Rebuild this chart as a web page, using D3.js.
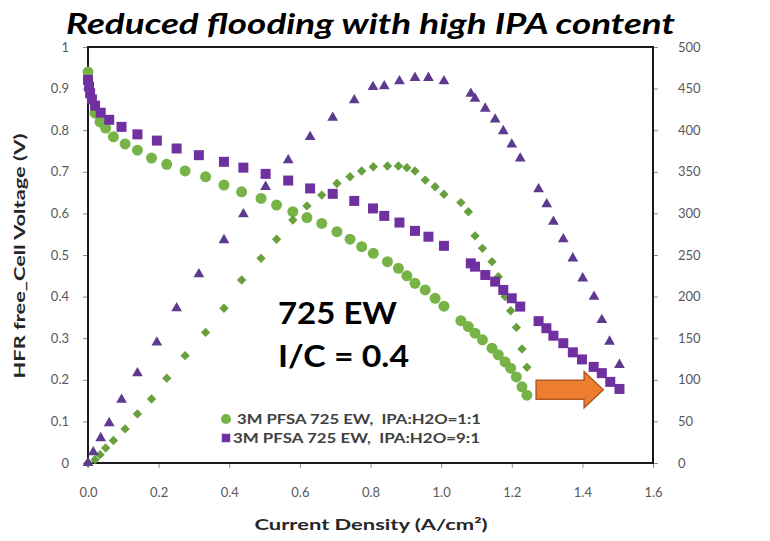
<!DOCTYPE html>
<html>
<head>
<meta charset="utf-8">
<script src="https://cdn.jsdelivr.net/npm/d3@7"></script>
<style>
  body { margin: 0; background: #fff; }
  text { font-family: Lato, "Open Sans", sans-serif; }
</style>
</head>
<body>
<svg id="chart" width="770" height="541"></svg>
<script>
// Current density (A/cm²) for the IPA:H2O = 1:1 ink
const current11 = [0.000, 0.020, 0.034, 0.050, 0.072, 0.105, 0.140, 0.180, 0.223, 0.275,
                   0.333, 0.385, 0.435, 0.490, 0.534, 0.580, 0.620, 0.662, 0.705, 0.742,
                   0.775, 0.808, 0.848, 0.879, 0.903, 0.926, 0.955, 0.983, 1.008, 1.056,
                   1.077, 1.096, 1.117, 1.144, 1.162, 1.181, 1.197, 1.213, 1.229, 1.243];
// HFR-free cell voltage (V), IPA:H2O = 1:1
const voltage11 = [0.940, 0.841, 0.820, 0.805, 0.784, 0.767, 0.752, 0.733, 0.718, 0.702,
                   0.688, 0.668, 0.652, 0.636, 0.620, 0.604, 0.590, 0.576, 0.556, 0.538,
                   0.520, 0.504, 0.484, 0.468, 0.450, 0.432, 0.416, 0.396, 0.377, 0.342,
                   0.328, 0.312, 0.296, 0.276, 0.260, 0.243, 0.228, 0.207, 0.183, 0.163];
// Power density (mW/cm²), IPA:H2O = 1:1
const power11 = [0, 4, 10, 18, 27, 41, 59, 77, 102, 129,
                 157, 186, 220, 246, 269, 292, 309, 322, 336, 344,
                 351, 356, 357, 357, 355, 351, 340, 332, 323, 313,
                 302, 273, 258, 242, 224, 200, 183, 163, 137, 115];

// Current density (A/cm²) for the IPA:H2O = 9:1 voltage curve
const current91 = [0.000, 0.003, 0.006, 0.011, 0.020, 0.036, 0.060, 0.095, 0.140, 0.195,
                   0.251, 0.314, 0.385, 0.440, 0.503, 0.567, 0.629, 0.693, 0.754, 0.807,
                   0.839, 0.882, 0.926, 0.964, 1.008, 1.084, 1.096, 1.125, 1.153, 1.176,
                   1.200, 1.224, 1.276, 1.298, 1.318, 1.346, 1.373, 1.399, 1.432, 1.455,
                   1.479, 1.505];
// HFR-free cell voltage (V), IPA:H2O = 9:1
const voltage91 = [0.921, 0.905, 0.889, 0.874, 0.859, 0.842, 0.825, 0.808, 0.790, 0.775,
                   0.756, 0.740, 0.724, 0.710, 0.695, 0.679, 0.660, 0.647, 0.630, 0.612,
                   0.594, 0.578, 0.558, 0.544, 0.522, 0.480, 0.472, 0.452, 0.436, 0.416,
                   0.396, 0.376, 0.341, 0.324, 0.306, 0.288, 0.266, 0.249, 0.231, 0.216,
                   0.195, 0.178];
// Current density (A/cm²) for the IPA:H2O = 9:1 power curve
const powerCurrent91 = [0.000, 0.015, 0.036, 0.060, 0.095, 0.140, 0.195, 0.251, 0.314, 0.385,
                        0.440, 0.503, 0.567, 0.629, 0.693, 0.754, 0.807, 0.839, 0.882, 0.926,
                        0.964, 1.008, 1.084, 1.096, 1.125, 1.153, 1.176, 1.200, 1.224, 1.276,
                        1.299, 1.318, 1.346, 1.373, 1.401, 1.433, 1.455, 1.477, 1.505];
// Power density (mW/cm²), IPA:H2O = 9:1
const power91 = [0, 13, 30, 48, 76, 108, 145, 186, 227, 268,
                 299, 332, 364, 392, 415, 436, 452, 453, 459, 463,
                 463, 459, 444, 438, 426, 413, 399, 383, 366, 329,
                 311, 290, 269, 246, 222, 200, 172, 146, 118];

const xTicks = [0, 0.2, 0.4, 0.6, 0.8, 1.0, 1.2, 1.4, 1.6];
const voltageTicks = [0, 0.1, 0.2, 0.3, 0.4, 0.5, 0.6, 0.7, 0.8, 0.9, 1];
const powerTicks = [0, 50, 100, 150, 200, 250, 300, 350, 400, 450, 500];
const legendLabels = ["3M PFSA 725 EW,\u00a0 IPA:H2O=1:1", "3M PFSA 725 EW,\u00a0 IPA:H2O=9:1"];

const svg = d3.select("#chart");
const plotL = 88, plotR = 653, plotT = 47, plotB = 463;

const x = d3.scaleLinear().domain([0, 1.6]).range([plotL, plotR]);
const yV = d3.scaleLinear().domain([0, 1]).range([plotB, plotT]);
const yP = d3.scaleLinear().domain([0, 500]).range([plotB, plotT]);

// Title
svg.append("text")
  .attr("x", 66).attr("y", 34)
  .attr("textLength", 609).attr("lengthAdjust", "spacingAndGlyphs")
  .style("font-size", "29px").style("font-weight", "bold").style("font-style", "italic")
  .attr("fill", "#000")
  .text("Reduced flooding with high IPA content");

// Axes
function styleAxis(g) {
  g.select(".domain").remove();
  g.selectAll(".tick line").attr("stroke", "#8c8c8c").attr("stroke-width", 1);
  g.selectAll(".tick text").attr("fill", "#595959").style("font-size", "13px")
    .style("font-family", "Lato, sans-serif");
}

svg.append("g").attr("transform", `translate(${plotL},0)`)
  .call(d3.axisLeft(yV).tickValues(voltageTicks).tickSize(5).tickPadding(14)
    .tickFormat(d => (d === 0 || d === 1) ? String(d) : d.toFixed(1)))
  .call(styleAxis);

svg.append("g").attr("transform", `translate(${plotR},0)`)
  .call(d3.axisRight(yP).tickValues(powerTicks).tickSize(5).tickPadding(20))
  .call(styleAxis);

svg.append("g").attr("transform", `translate(0,${plotB})`)
  .call(d3.axisBottom(x).tickValues(xTicks).tickSize(5).tickPadding(20)
    .tickFormat(d3.format(".1f")))
  .call(styleAxis);

// Plot frame
svg.append("rect")
  .attr("x", plotL).attr("y", plotT)
  .attr("width", plotR - plotL).attr("height", plotB - plotT)
  .attr("fill", "none").attr("stroke", "#1a1a1a").attr("stroke-width", 2);

// Axis titles
svg.append("text")
  .attr("transform", "translate(25,256) rotate(-90)")
  .attr("text-anchor", "middle")
  .attr("textLength", 245).attr("lengthAdjust", "spacingAndGlyphs")
  .style("font-size", "16px").style("font-weight", "bold").attr("fill", "#262626")
  .text("HFR free_Cell Voltage (V)");

svg.append("text")
  .attr("x", 371).attr("y", 530)
  .attr("text-anchor", "middle")
  .attr("textLength", 233).attr("lengthAdjust", "spacingAndGlyphs")
  .style("font-size", "15px").style("font-weight", "bold").attr("fill", "#262626")
  .text("Current Density (A/cm²)");

// Markers
const green = "#77b347", greenDark = "#67a03d", purple = "#7030a0", purpleTri = "#5d3a8e";
const circleSym = d3.symbol(d3.symbolCircle, 95);
const squareSym = d3.symbol(d3.symbolSquare, 100);
const diamondSym = d3.symbol(d3.symbolSquare, 44);
const triangleSym = d3.symbol(d3.symbolTriangle, 50);

svg.append("g").selectAll("path")
  .data(d3.zip(current11, voltage11)).join("path")
  .attr("d", circleSym).attr("fill", green)
  .attr("transform", d => `translate(${x(d[0])},${yV(d[1])})`);

svg.append("g").selectAll("path")
  .data(d3.zip(current11, power11)).join("path")
  .attr("d", diamondSym).attr("fill", greenDark)
  .attr("transform", d => `translate(${x(d[0])},${yP(d[1])}) rotate(45)`);

svg.append("g").selectAll("path")
  .data(d3.zip(powerCurrent91, power91)).join("path")
  .attr("d", triangleSym).attr("fill", purpleTri)
  .attr("transform", d => `translate(${x(d[0])},${yP(d[1])})`);

svg.append("g").selectAll("path")
  .data(d3.zip(current91, voltage91)).join("path")
  .attr("d", squareSym).attr("fill", purple)
  .attr("transform", d => `translate(${x(d[0])},${yV(d[1])})`);

// Annotation text
svg.append("text").attr("x", 278).attr("y", 324)
  .attr("textLength", 119).attr("lengthAdjust", "spacingAndGlyphs")
  .style("font-size", "30px").style("font-weight", "bold").attr("fill", "#000")
  .text("725 EW");
svg.append("text").attr("x", 278).attr("y", 367)
  .attr("textLength", 131).attr("lengthAdjust", "spacingAndGlyphs")
  .style("font-size", "30px").style("font-weight", "bold").attr("fill", "#000")
  .text("I/C = 0.4");

// Legend
const legend = svg.append("g");
legend.append("path").attr("d", d3.symbol(d3.symbolCircle, 80))
  .attr("fill", green).attr("transform", "translate(226,419)");
legend.append("path").attr("d", d3.symbol(d3.symbolSquare, 72))
  .attr("fill", purple).attr("transform", "translate(226,438)");
legend.selectAll("text.lg").data(legendLabels).join("text")
  .attr("class", "lg")
  .attr("x", (d, i) => i === 0 ? 237 : 233)
  .attr("y", (d, i) => 424 + i * 19)
  .attr("textLength", (d, i) => i === 0 ? 244 : 247)
  .attr("lengthAdjust", "spacingAndGlyphs")
  .style("font-size", "13px").style("font-weight", "bold").attr("fill", "#404040")
  .text(d => d);

// Orange arrow pointing at the end of the 9:1 polarization curve
const arrowStart = 1.269, arrowNeck = 1.405, arrowTip = 1.459, arrowV = 0.176;
const ay = yV(arrowV), bodyHalf = 9.5, headHalf = 18;
const arrowPts = [
  [x(arrowStart), ay - bodyHalf], [x(arrowNeck), ay - bodyHalf], [x(arrowNeck), ay - headHalf],
  [x(arrowTip), ay], [x(arrowNeck), ay + headHalf], [x(arrowNeck), ay + bodyHalf],
  [x(arrowStart), ay + bodyHalf]
];
svg.append("path")
  .attr("d", "M" + arrowPts.map(p => p.join(",")).join("L") + "Z")
  .attr("fill", "#ed7d31").attr("stroke", "#b35a1f").attr("stroke-width", 1.5);
</script>
</body>
</html>
